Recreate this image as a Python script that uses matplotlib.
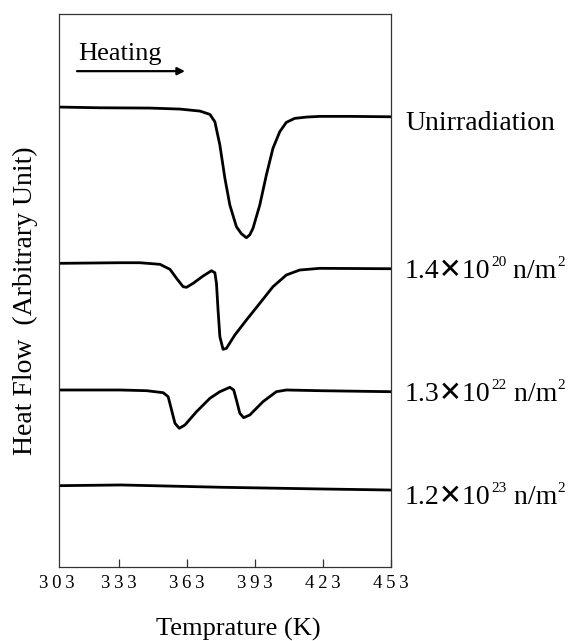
import matplotlib
matplotlib.use("Agg")
import matplotlib.pyplot as plt

# temperature (K) and heat flow (arbitrary unit, curves already offset)
temp_unirr = [306.7, 324.6, 346.7, 359.9, 368.7, 373.1, 375.3, 377.5, 379.7,
              381.9, 384.8, 387.0, 389.2, 390.7, 392.1, 395.1, 398.0, 400.9,
              403.9, 406.8, 410.5, 415.7, 421.5, 434.7, 452.8]
hf_unirr = [45.97, 45.90, 45.87, 45.77, 45.57, 45.24, 44.50, 42.17, 38.87,
            36.17, 34.00, 33.30, 32.90, 33.20, 33.84, 36.17, 39.17, 41.84,
            43.50, 44.44, 44.84, 44.97, 45.04, 45.04, 45.00]

temp_e20 = [306.7, 333.4, 342.2, 351.1, 355.5, 358.4, 361.3, 362.8, 365.7,
            370.1, 373.8, 375.3, 376.0, 376.7, 377.5, 378.9, 380.4, 384.1,
            389.2, 395.1, 400.9, 406.8, 412.7, 421.5, 452.8]
hf_e20 = [30.34, 30.40, 30.40, 30.24, 29.74, 28.84, 28.00, 27.94, 28.34,
          29.07, 29.60, 29.40, 28.34, 25.67, 23.00, 21.74, 21.84, 23.17,
          24.67, 26.34, 28.00, 29.17, 29.67, 29.84, 29.80]

temp_e22 = [306.7, 333.4, 345.2, 352.5, 354.7, 356.2, 357.7, 359.6, 362.1,
            367.2, 373.1, 377.5, 381.9, 383.6, 384.8, 386.3, 388.0, 390.7,
            396.5, 402.4, 406.8, 421.5, 452.8]
hf_e22 = [17.67, 17.67, 17.60, 17.40, 17.00, 15.67, 14.34, 13.84, 14.17,
          15.50, 16.84, 17.50, 17.94, 17.67, 16.67, 15.34, 14.90, 15.17,
          16.50, 17.50, 17.67, 17.60, 17.50]

temp_e23 = [306.7, 333.9, 377.9, 422.0, 451.3, 452.8]
hf_e23 = [8.10, 8.17, 7.94, 7.77, 7.67, 7.66]

dose_mantissa = ["1.4", "1.3", "1.2"]
dose_exponent = ["20", "22", "23"]
label_y = [0.8066, 0.5757, 0.3838, 0.2231]

xticks = [333, 363, 393, 423, 453]
xtick_labels = ["3\u20093\u20093", "3\u20096\u20093", "3\u20099\u20093",
                "4\u20092\u20093", "4\u20095\u20093"]

plt.rcParams["font.family"] = ["Liberation Serif", "DejaVu Sans"]

fig = plt.figure(figsize=(5.72, 6.41), dpi=100)
ax = fig.add_axes([0.1037, 0.116, 0.58, 0.862])

for t, h in [(temp_unirr, hf_unirr), (temp_e20, hf_e20),
             (temp_e22, hf_e22), (temp_e23, hf_e23)]:
    ax.plot(t, h, color="black", lw=2.0, solid_joinstyle="round",
            solid_capstyle="round")

ax.set_xlim(306.7, 453)
ax.set_ylim(0, 55.27)
ax.set_yticks([])
ax.set_xticks(xticks, xtick_labels)
ax.tick_params(axis="x", direction="in", length=6, width=0.9, pad=6,
               labelsize=13.5, color="#333333")
for s in ax.spines.values():
    s.set_linewidth(0.9)
    s.set_color("#333333")

ax.annotate("3\u20090\u20093", xy=(305.5, 0), xycoords=("data", "axes fraction"),
            xytext=(0, -6), textcoords="offset points",
            ha="center", va="top", fontsize=13.5, annotation_clip=False)

ax.set_xlabel("Temprature (K)", fontsize=19, va="center")
ax.xaxis.set_label_coords(0.539, -0.1145)
ax.set_ylabel("Heat Flow  (Arbitrary Unit)", fontsize=20, va="center")
ax.yaxis.set_label_coords(-0.103, 0.482)

fig.text(0.1364, 0.906, "Heating", fontsize=19, va="baseline")
ax.annotate("", xy=(0.3234, 0.889), xycoords="figure fraction",
            xytext=(0.1346, 0.889), textcoords="figure fraction",
            arrowprops=dict(arrowstyle="-|>", lw=1.6, color="black",
                            mutation_scale=11, shrinkA=0, shrinkB=0))

# sample labels on the right
fig.text(0.708, label_y[0], "Unirradiation", fontsize=20, va="center", ha="left")
for mant, expo, y in zip(dose_mantissa, dose_exponent, label_y[1:]):
    t1 = fig.text(0.708, y, mant + "\u271510", fontsize=20, va="center", ha="left")
    t2 = ax.annotate(expo, xy=(1, 0.6), xycoords=t1, xytext=(0.5, 0),
                     textcoords="offset points", fontsize=11,
                     ha="left", va="bottom", annotation_clip=False)
    t3 = ax.annotate(" n/m", xy=(1, 0), xycoords=(t2, t1), fontsize=20,
                     ha="left", va="bottom", annotation_clip=False)
    ax.annotate("2", xy=(1, 0.6), xycoords=(t3, t1), xytext=(0.5, 0),
                textcoords="offset points", fontsize=11,
                ha="left", va="bottom", annotation_clip=False)

fig.savefig("out.png", dpi=100)
